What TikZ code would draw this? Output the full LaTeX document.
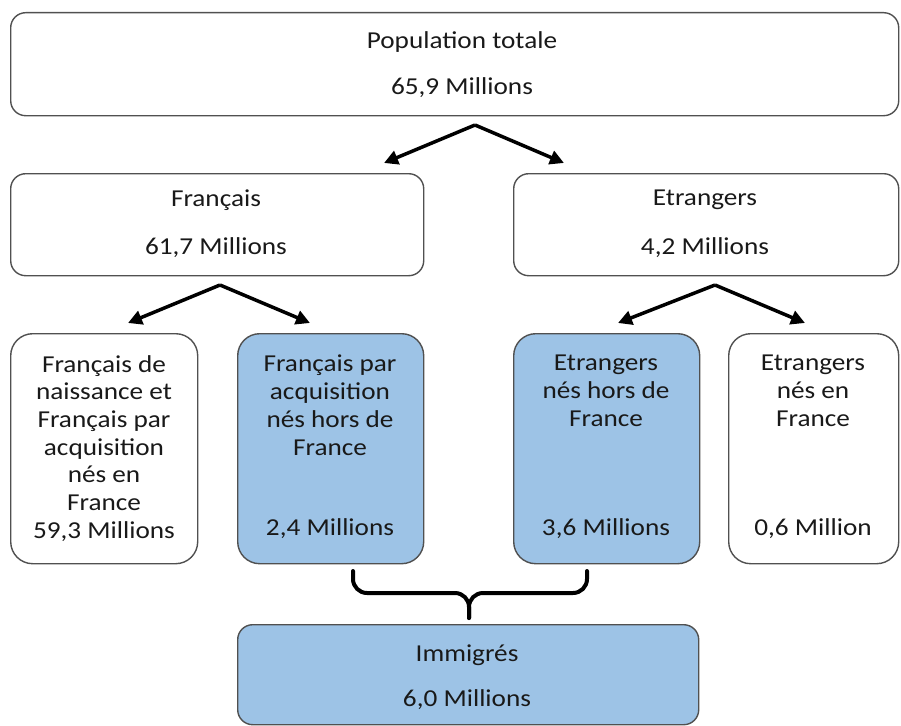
\documentclass[tikz,border=0pt]{standalone}
\usepackage{fontspec}
\setmainfont[FakeStretch=1.12]{Carlito}
\usetikzlibrary{arrows.meta,calc}
\definecolor{boxline}{RGB}{80,80,80}
\definecolor{blue1}{RGB}{157,195,230}
\begin{document}
\begin{tikzpicture}[x=1pt,y=-1pt,
  box/.style={draw=boxline,line width=1.4pt,rounded corners=#1,inner sep=0pt,anchor=north west},
  box/.default=15pt,
  bluebox/.style={box=#1,fill=blue1},
  bluebox/.default=22pt,
  txt/.style={font=\fontsize{24.3}{27.7}\selectfont,align=center,inner sep=0pt,text=black!90},
  arr/.style={line width=3.5pt,-{Triangle[length=14pt,width=14pt]}},
  brace/.style={line width=4pt,rounded corners=14pt,line cap=round}]
\useasboundingbox (0,0) rectangle (901,725);
% top
\node[box,minimum width=888pt,minimum height=103pt] (top) at (10,12) {};
\node[txt] (topa) at (462,42) {Population totale};
\node[txt] (topb) at (462,88) {65,9 Millions};
% second row
\node[box,minimum width=413pt,minimum height=102pt] (fr) at (10,173) {};
\node[txt] (fra) at (216,200) {Français};
\node[txt] (frb) at (216,248) {61,7 Millions};
\node[box,minimum width=385pt,minimum height=102pt] (et) at (513,173) {};
\node[txt] (eta) at (705,200) {Etrangers};
\node[txt] (etb) at (705,248) {4,2 Millions};
% third row
\node[box=22pt,minimum width=187pt,minimum height=230pt] (a) at (10,333) {};
\node[txt,anchor=north] (at) at (104,355) {Français de\\naissance et\\Français par\\acquisition\\nés en\\France\\59,3 Millions};
\node[bluebox,minimum width=186pt,minimum height=230pt] (b) at (237,333) {};
\node[txt,anchor=north] (bt) at (330,355) {Français par\\acquisition\\nés hors de\\France};
\node[txt] (bm) at (330,529) {2,4 Millions};
\node[bluebox,minimum width=186pt,minimum height=230pt] (c) at (513,333) {};
\node[txt,anchor=north] (ct) at (606,355) {Etrangers\\nés hors de\\France};
\node[txt] (cm) at (606,529) {3,6 Millions};
\node[box=22pt,minimum width=170pt,minimum height=230pt] (d) at (728,333) {};
\node[txt,anchor=north] (dt) at (813,355) {Etrangers\\nés en\\France};
\node[txt] (dm) at (813,529) {0,6 Million};
% bottom
\node[bluebox=15pt,minimum width=461pt,minimum height=100pt] (im) at (237,624) {};
\node[txt] (ima) at (467,655) {Immigrés};
\node[txt] (imb) at (467,700) {6,0 Millions};
% arrows
\coordinate (s1) at (475,125);
\coordinate (e1) at (384,163);
\coordinate (e2) at (564,163);
\draw[arr] (s1) -- (e1);
\draw[arr] (s1) -- (e2);
\coordinate (s2) at (220,285);
\coordinate (e3) at (128,323);
\coordinate (e4) at (310,323);
\draw[arr] (s2) -- (e3);
\draw[arr] (s2) -- (e4);
\coordinate (s3) at (715,285);
\coordinate (e5) at (618,323);
\coordinate (e6) at (805,323);
\draw[arr] (s3) -- (e5);
\draw[arr] (s3) -- (e6);
% brace
\coordinate (bl) at (353,571);
\coordinate (br) at (587,571);
\coordinate (bc) at (469,593);
\coordinate (btip) at (469,618);
\draw[brace] (bl) |- (bc) -- (btip);
\draw[brace] (br) |- (bc) -- (btip);
\end{tikzpicture}
\end{document}
